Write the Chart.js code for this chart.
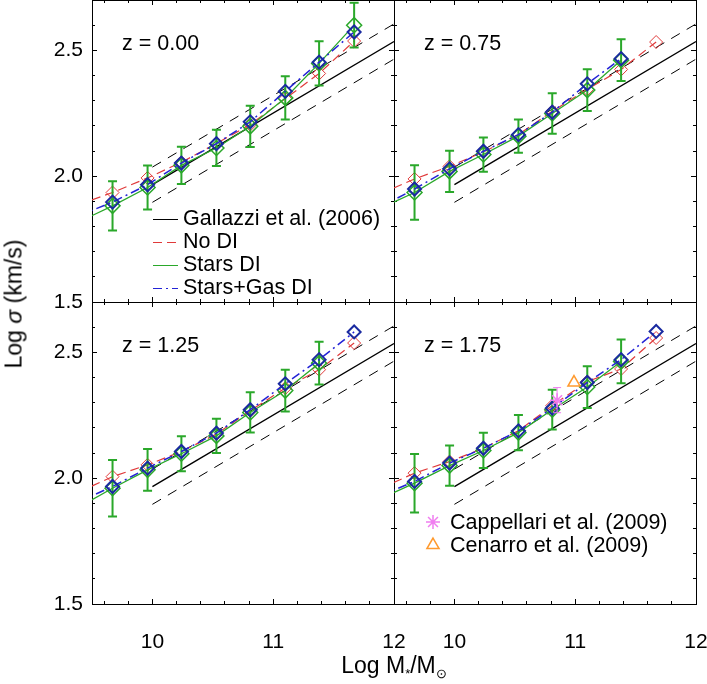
<!DOCTYPE html>
<html>
<head>
<meta charset="utf-8">
<script src="https://cdn.jsdelivr.net/npm/chart.js@4.4.1/dist/chart.umd.min.js"></script>
<style>
  html, body { margin: 0; padding: 0; background: #fff; }
  body { width: 707px; height: 684px; position: relative; overflow: hidden; font-family: "Liberation Sans", Arial, sans-serif; }
  canvas { position: absolute; left: 0; top: 0; }
  .title { position: absolute; font-size: 23px; color: #000; white-space: nowrap; line-height: 1; }
  #ytitle { left: 14px; top: 304px; transform: translate(-50%, -50%) rotate(-90deg); }
  #xtitle { left: 394px; top: 667px; transform: translate(-50%, -50%); }
  #xtitle sub { font-size: 13px; vertical-align: -5px; }
</style>
</head>
<body>
<canvas id="p0" width="707" height="684"></canvas>
<canvas id="p1" width="707" height="684"></canvas>
<canvas id="p2" width="707" height="684"></canvas>
<canvas id="p3" width="707" height="684"></canvas>
<div class="title" id="ytitle">Log <i>σ</i> (km/s)</div>
<div class="title" id="xtitle">Log M<sub>*</sub>/M<sub>⊙</sub></div>
<script>
// mass bins (Log M*/Msun); the first bin sits just left of the plotted range
const massBins = [9.39, 9.67, 9.96, 10.24, 10.53, 10.81, 11.10, 11.38, 11.67];

// z = 0.00
const noDI_z000      = [1.887, 1.935, 1.993, 2.055, 2.130, 2.205, 2.308, 2.408, 2.537];
const starsDI_z000   = [1.818, 1.882, 1.955, 2.043, 2.112, 2.198, 2.311, 2.448, 2.600];
const starsGas_z000  = [1.843, 1.897, 1.966, 2.052, 2.129, 2.216, 2.337, 2.453, 2.573];
const starsErr_z000  = [null, 0.098, 0.087, 0.074, 0.072, 0.082, 0.086, 0.088, 0.089];

// z = 0.75
const noDI_z075      = [1.930, 1.989, 2.039, 2.096, 2.165, 2.258, 2.345, 2.424, 2.533];
const starsDI_z075   = [1.873, 1.935, 2.019, 2.086, 2.159, 2.249, 2.342, 2.461, null];
const starsGas_z075  = [1.878, 1.949, 2.029, 2.099, 2.165, 2.254, 2.367, 2.467, null];
const starsErr_z075  = [null, 0.108, 0.082, 0.068, 0.066, 0.080, 0.083, 0.083, null];

// z = 1.25
const noDI_z125      = [1.945, 2.006, 2.053, 2.106, 2.175, 2.268, 2.358, 2.431, 2.537];
const starsDI_z125   = [1.884, 1.960, 2.033, 2.097, 2.168, 2.261, 2.348, 2.457, null];
const starsGas_z125  = [1.906, 1.967, 2.040, 2.106, 2.179, 2.272, 2.375, 2.471, 2.581];
const starsErr_z125  = [null, 0.112, 0.083, 0.070, 0.068, 0.080, 0.083, 0.085, null];

// z = 1.75
const noDI_z175      = [1.959, 2.020, 2.066, 2.119, 2.188, 2.288, 2.384, 2.434, 2.557];
const starsDI_z175   = [1.919, 1.980, 2.050, 2.110, 2.181, 2.272, 2.362, 2.464, null];
const starsGas_z175  = [1.931, 1.987, 2.060, 2.119, 2.188, 2.278, 2.380, 2.471, 2.583];
const starsErr_z175  = [null, 0.116, 0.080, 0.070, 0.070, 0.079, 0.083, 0.087, null];

// Gallazzi et al. (2006) relation and its scatter
const gallazziMass  = [10, 12];
const gallazziSigma = [1.966, 2.535];
const gallazziUpper = [2.036, 2.605];
const gallazziLower = [1.896, 2.465];

// observations at z ~ 1.75
const cappellariMass = [10.85], cappellariSigma = [2.31], cappellariErr = [0.05];
const cenarroMass = [10.99], cenarroSigma = [2.38];

const panelLabels = ['z = 0.00', 'z = 0.75', 'z = 1.25', 'z = 1.75'];
const xMajorTicks = [10, 11, 12];
const xMinorTicks = [9.6, 9.8, 10.2, 10.4, 10.6, 10.8, 11.2, 11.4, 11.6, 11.8];
const yMajorTicks = [1.5, 2.0, 2.5];
const yMinorTicks = [1.6, 1.7, 1.8, 1.9, 2.1, 2.2, 2.3, 2.4, 2.6];

const FONT = '"Liberation Sans", Arial, sans-serif';
const RED = '#e03a3a', GREEN = '#2aa82a', BLUE = '#2323d6', BLUE_MARK = '#1a2aa0';
const PINK = '#f07ef0', ORANGE = '#ff9a2e';

Chart.defaults.font.family = FONT;
Chart.defaults.color = '#000';

function pts(xs, ys, errs) {
    return xs.map((x, i) => ({ x: x, y: ys[i], e: errs ? errs[i] : null }))
             .filter(p => p.y != null);
}

// fixed axis sizes, so every panel's plot area lines up with the others
function fixedFit(size) {
    return scale => {
        if (scale.isHorizontal()) scale.height = size; else scale.width = size;
        scale.paddingTop = scale.paddingBottom = scale.paddingLeft = scale.paddingRight = 0;
    };
}

function axis(kind, position, values, len, labels, border, size, weight) {
    const horiz = kind === 'x';
    return {
        type: 'linear', axis: kind, position: position, weight: weight,
        min: horiz ? 9.5 : 1.5, max: horiz ? 12 : 2.7,
        afterBuildTicks: s => { s.ticks = values.map(v => ({ value: v })); },
        afterFit: fixedFit(size),
        ticks: {
            display: labels,
            font: { size: 21 },
            color: '#000',
            padding: horiz ? 31 : 14,
            callback: v => horiz ? String(v) : v.toFixed(1)
        },
        grid: { display: true, drawOnChartArea: false, drawTicks: true, tickLength: -len, tickColor: '#000', tickWidth: 1 },
        border: { display: border, color: '#000', width: 1 }
    };
}

function makeScales(showX, showY) {
    return {
        x: axis('x', 'bottom', xMajorTicks, 5, showX, true, showX ? 80 : 0, 1),
        xMinor: axis('x', 'bottom', xMinorTicks, 3, false, false, 0, 0),
        xTop: axis('x', 'top', xMajorTicks, 5, false, true, 0, 1),
        xTopMinor: axis('x', 'top', xMinorTicks, 3, false, false, 0, 0),
        y: axis('y', 'left', yMajorTicks, 5, showY, true, showY ? 92 : 0, 1),
        yMinor: axis('y', 'left', yMinorTicks, 3, false, false, 0, 0),
        yRight: axis('y', 'right', yMajorTicks, 5, false, true, 0, 1),
        yRightMinor: axis('y', 'right', yMinorTicks, 3, false, false, 0, 0)
    };
}

const markRadius = r => c => (c.raw && c.raw.x < 9.5) ? 0 : r;

function modelSets(noDI, starsDI, starsGas, errs) {
    return [
        { label: 'Stars+Gas DI', data: pts(massBins, starsGas),
          borderColor: BLUE, borderWidth: 1.5, borderDash: [9, 4, 2, 4],
          pointStyle: 'rectRot', pointRadius: markRadius(6.5), pointBorderColor: BLUE_MARK,
          pointBorderWidth: 2, pointBackgroundColor: 'rgba(0,0,0,0)' },
        { label: 'Stars DI', data: pts(massBins, starsDI, errs),
          borderColor: GREEN, borderWidth: 1.3,
          errorColor: GREEN, errorWidth: 2, errorCap: 4.5,
          pointStyle: 'rectRot', pointRadius: markRadius(7.5), pointBorderColor: GREEN,
          pointBorderWidth: 1.5, pointBackgroundColor: 'rgba(0,0,0,0)' },
        { label: 'No DI', data: pts(massBins, noDI),
          borderColor: RED, borderWidth: 1.2, borderDash: [9, 5],
          pointStyle: 'rectRot', pointRadius: markRadius(6.5), pointBorderColor: RED,
          pointBorderWidth: 1, pointBackgroundColor: 'rgba(0,0,0,0)' },
        { label: 'Gallazzi et al. (2006)', data: pts(gallazziMass, gallazziSigma),
          borderColor: '#000', borderWidth: 1.4, pointRadius: 0 },
        { label: 'Gallazzi upper', data: pts(gallazziMass, gallazziUpper),
          borderColor: '#000', borderWidth: 1, borderDash: [10, 8], pointRadius: 0 },
        { label: 'Gallazzi lower', data: pts(gallazziMass, gallazziLower),
          borderColor: '#000', borderWidth: 1, borderDash: [10, 8], pointRadius: 0 }
    ];
}

const obsSets = [
    { label: 'Cappellari et al. (2009)', data: pts(cappellariMass, cappellariSigma, cappellariErr),
      showLine: false, pointStyle: 'star', pointRadius: 7, pointBorderColor: PINK, pointBorderWidth: 1.5,
      errorColor: PINK, errorWidth: 1, errorCap: 4 },
    { label: 'Cenarro et al. (2009)', data: pts(cenarroMass, cenarroSigma),
      showLine: false, pointStyle: 'triangle', pointRadius: 7, pointBorderColor: ORANGE, pointBorderWidth: 1.5,
      pointBackgroundColor: 'rgba(0,0,0,0)' }
];

const errorBars = {
    id: 'errorBars',
    afterDatasetDraw(chart, args) {
        const ds = chart.data.datasets[args.index];
        if (!ds.errorColor) return;
        const { ctx, chartArea: a } = chart;
        const xs = chart.scales.x, ys = chart.scales.y;
        ctx.save();
        ctx.beginPath();
        ctx.rect(a.left, a.top, a.right - a.left, a.bottom - a.top);
        ctx.clip();
        ctx.strokeStyle = ds.errorColor;
        ctx.lineWidth = ds.errorWidth;
        ctx.setLineDash([]);
        ds.data.forEach(p => {
            if (p.e == null) return;
            const px = xs.getPixelForValue(p.x);
            const lo = ys.getPixelForValue(p.y - p.e), hi = ys.getPixelForValue(p.y + p.e);
            const c = ds.errorCap;
            ctx.beginPath();
            ctx.moveTo(px, lo); ctx.lineTo(px, hi);
            ctx.moveTo(px - c, lo); ctx.lineTo(px + c, lo);
            ctx.moveTo(px - c, hi); ctx.lineTo(px + c, hi);
            ctx.stroke();
        });
        ctx.restore();
    }
};

const panelText = {
    id: 'panelText',
    afterDraw(chart, args, opts) {
        const { ctx, chartArea: a } = chart;
        ctx.save();
        ctx.font = '21.5px ' + FONT;
        ctx.fillStyle = '#000';
        ctx.textBaseline = 'middle';
        ctx.fillText(opts.label, a.left + 30, a.top + 44);
        (opts.lines || []).forEach((name, i) => {
            const ds = chart.data.datasets.find(d => d.label === name);
            const y = a.top + 219.5 + i * 23;
            ctx.strokeStyle = ds.borderColor;
            ctx.lineWidth = 1;
            ctx.setLineDash(ds.borderDash || []);
            ctx.beginPath();
            ctx.moveTo(a.left + 61, y); ctx.lineTo(a.left + 86, y);
            ctx.stroke();
            ctx.fillText(name, a.left + 91, y);
        });
        (opts.marks || []).forEach((name, i) => {
            const ds = chart.data.datasets.find(d => d.label === name);
            const y = a.top + 220 + i * 23;
            ctx.setLineDash([]);
            ctx.strokeStyle = ds.pointBorderColor;
            ctx.fillStyle = 'rgba(0,0,0,0)';
            ctx.lineWidth = ds.pointBorderWidth;
            Chart.helpers.drawPoint(ctx, { pointStyle: ds.pointStyle, radius: 7, rotation: 0, borderWidth: ds.pointBorderWidth }, a.left + 39, y);
            ctx.fillStyle = '#000';
            ctx.fillText(name, a.left + 56, y + 1);
        });
        ctx.restore();
    }
};

const panels = [
    { id: 'p0', area: [92, 0, 394, 302], showX: false, showY: true,
      sets: modelSets(noDI_z000, starsDI_z000, starsGas_z000, starsErr_z000),
      text: { label: panelLabels[0], lines: ['Gallazzi et al. (2006)', 'No DI', 'Stars DI', 'Stars+Gas DI'] } },
    { id: 'p1', area: [394, 0, 696, 302], showX: false, showY: false,
      sets: modelSets(noDI_z075, starsDI_z075, starsGas_z075, starsErr_z075),
      text: { label: panelLabels[1] } },
    { id: 'p2', area: [92, 302, 394, 604], showX: true, showY: true,
      sets: modelSets(noDI_z125, starsDI_z125, starsGas_z125, starsErr_z125),
      text: { label: panelLabels[2] } },
    { id: 'p3', area: [394, 302, 696, 604], showX: true, showY: false,
      sets: obsSets.concat(modelSets(noDI_z175, starsDI_z175, starsGas_z175, starsErr_z175)),
      text: { label: panelLabels[3], marks: ['Cappellari et al. (2009)', 'Cenarro et al. (2009)'] } }
];

panels.forEach(p => {
    const [l, t, r, b] = p.area;
    // the labelled axes take up the left / bottom margins themselves
    const padLeft = p.showY ? l - 92 : l;
    const padBottom = p.showX ? 684 - b - 80 : 684 - b;
    new Chart(document.getElementById(p.id), {
        type: 'line',
        data: { datasets: p.sets },
        options: {
            responsive: false,
            animation: false,
            events: [],
            layout: { autoPadding: false, padding: { left: padLeft, top: t, right: 707 - r, bottom: padBottom } },
            elements: { line: { tension: 0 } },
            scales: makeScales(p.showX, p.showY),
            plugins: { legend: { display: false }, tooltip: { enabled: false }, panelText: p.text }
        },
        plugins: [errorBars, panelText]
    });
});
</script>
</body>
</html>
